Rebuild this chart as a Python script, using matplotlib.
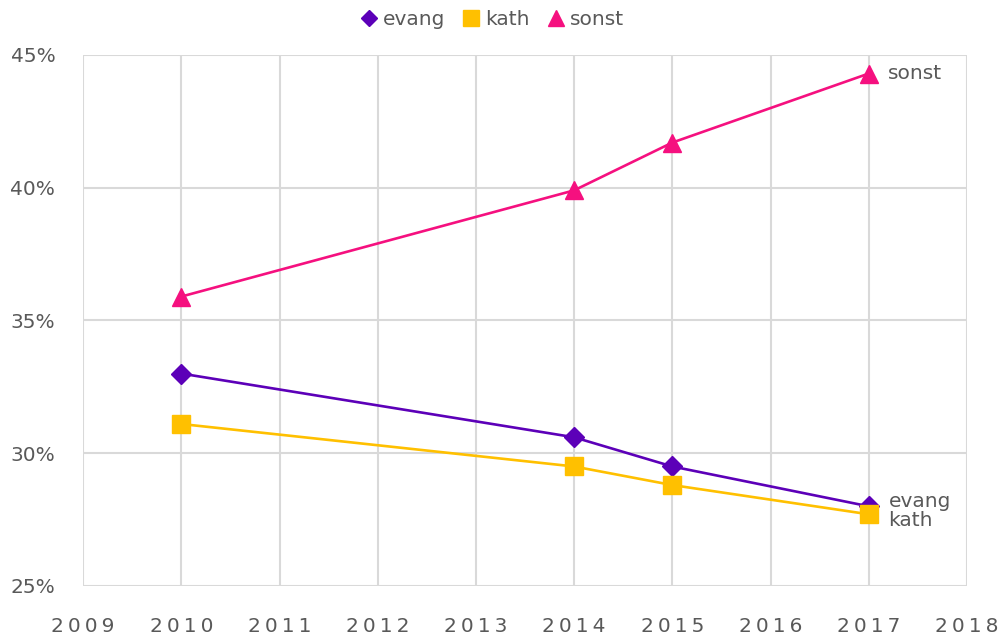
import matplotlib.pyplot as plt
from matplotlib.lines import Line2D
from matplotlib.ticker import FuncFormatter

years = [2010, 2014, 2015, 2017]
evang = [33.0, 30.6, 29.5, 28.0]
kath = [31.1, 29.5, 28.8, 27.7]
sonst = [35.9, 39.9, 41.7, 44.3]

series = [
    ("evang", evang, "#5C00B8", "D", 10),
    ("kath", kath, "#FFC000", "s", 13),
    ("sonst", sonst, "#F5107F", "^", 13),
]

text_color = "#595959"
grid_color = "#D9D9D9"

fig = plt.figure(figsize=(10.01, 6.39), dpi=100)
ax = fig.add_axes([0.083, 0.083, 0.883, 0.831])

handles = []
for name, vals, color, marker, ms in series:
    ax.plot(years, vals, color=color, lw=1.9, marker=marker, markersize=ms,
            markeredgecolor=color, zorder=3)
    handles.append(Line2D([], [], ls="none", marker=marker, color=color,
                          markersize=ms * 0.85, label=name))

ax.set_xlim(2009, 2018)
ax.set_ylim(25, 45)
ax.set_xticks(range(2009, 2019))
ax.set_yticks([25, 30, 35, 40, 45])
ax.xaxis.set_major_formatter(FuncFormatter(lambda v, p: "\u2009".join(str(int(v)))))
ax.yaxis.set_major_formatter(FuncFormatter(lambda v, p: f"{int(v)}%"))
ax.grid(True, color=grid_color, lw=1.5)
for s in ax.spines.values():
    s.set_visible(False)
ax.tick_params(length=0, colors=text_color, labelsize=14.5)
ax.tick_params(axis="x", pad=22)
ax.tick_params(axis="y", pad=20)

# end labels
ax.text(2017.2, sonst[-1], "sonst", color=text_color, fontsize=14.5, va="center")
ax.text(2017.2, evang[-1] + 0.2, "evang", color=text_color, fontsize=14.5, va="center")
ax.text(2017.2, kath[-1] - 0.25, "kath", color=text_color, fontsize=14.5, va="center")

ax.legend(handles=handles, loc="lower center", bbox_to_anchor=(0.463, 1.022), ncol=3,
          frameon=False, fontsize=14.5, labelcolor=text_color, handlelength=0.8,
          handletextpad=0.3, columnspacing=0.9, borderaxespad=0.3)

plt.savefig("out.png", dpi=100)
